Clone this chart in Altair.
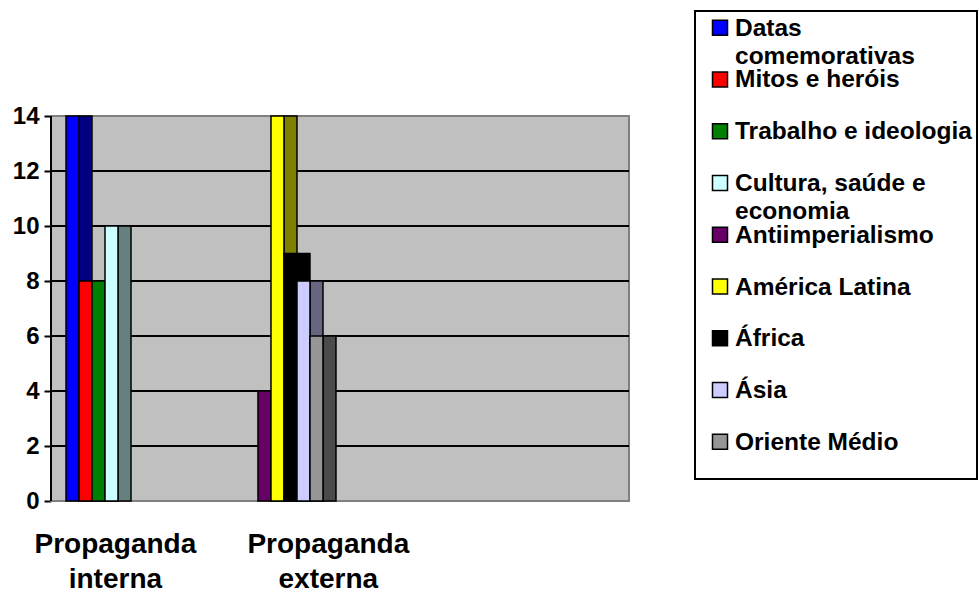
import altair as alt
import pandas as pd

# ---------------- data ----------------
categories = ["Propaganda interna", "Propaganda externa"]
series = ["Datas comemorativas", "Mitos e heróis", "Trabalho e ideologia",
          "Cultura, saúde e economia", "Antiimperialismo", "América Latina",
          "África", "Ásia", "Oriente Médio"]
legend_labels = ["Datas\ncomemorativas", "Mitos e heróis", "Trabalho e ideologia",
                 "Cultura, saúde e\neconomia", "Antiimperialismo", "América Latina",
                 "África", "Ásia", "Oriente Médio"]
valores_interna = [14, 8, 8, 10, 0, 0, 0, 0, 0]
valores_externa = [0, 0, 0, 0, 4, 14, 9, 8, 6]
y_ticks = [0, 2, 4, 6, 8, 10, 12, 14]

front_colors = ["#0000FF", "#FF0000", "#008000", "#CCFFFF", "#660066",
                "#FFFF00", "#000000", "#CCCCFF", "#969696"]
side_colors = ["#000080", "#800000", "#004000", "#668080", "#330033",
               "#808000", "#000000", "#666680", "#4B4B4B"]

FONT = "Liberation Sans"

rows = []
for cat, vals in zip(categories, [valores_interna, valores_externa]):
    for s, v in zip(series, vals):
        rows.append({"categoria": cat, "serie": s, "valor": v})
df = pd.DataFrame(rows)
df = df[df["valor"] > 0]

# the value axis occupies the lower 385 px of a 490 px tall panel
PANEL_H = 490
WALL_H = 385
y_top = max(y_ticks) * PANEL_H / WALL_H

x_bars = alt.X("categoria:N", sort=categories, axis=None,
               scale=alt.Scale(domain=categories, range=[15, 272],
                               paddingInner=0.164, paddingOuter=0))
y_axis = alt.Axis(values=y_ticks, title=None, labelFontSize=24, labelFontWeight="bold",
                  labelFont=FONT, labelColor="black", labelPadding=5,
                  tickSize=7, tickWidth=2, tickColor="black",
                  domain=False, grid=False)
y_scale = alt.Scale(domain=[0, y_top], nice=False, zero=True)
y_enc = alt.Y("valor:Q", scale=y_scale, axis=y_axis)

# back wall (grey) spanning the value range
wall_df = pd.DataFrame({"base": [min(y_ticks)], "topo": [max(y_ticks)]})
wall = alt.Chart(wall_df).mark_rect(fill="#C0C0C0", stroke="#808080", strokeWidth=2).encode(
    y=alt.Y("topo:Q", scale=y_scale, axis=y_axis), y2="base:Q",
    x=alt.value(0), x2=alt.value("width"),
)
axis_line = alt.Chart(wall_df).mark_rule(color="black", strokeWidth=2).encode(
    y=alt.Y("topo:Q", scale=y_scale, axis=y_axis), y2="base:Q", x=alt.value(0),
)

# horizontal grid lines on the back wall
grid_df = pd.DataFrame({"valor": [t for t in y_ticks if min(y_ticks) < t < max(y_ticks)]})
grid = alt.Chart(grid_df).mark_rule(color="black", strokeWidth=2).encode(
    y=y_enc, x=alt.value(0), x2=alt.value("width"),
)

# depth (side) faces, one slot to the right, darker shade
side = alt.Chart(df).mark_bar(stroke="black", strokeWidth=1.5).encode(
    x=x_bars,
    xOffset=alt.XOffset("serie:N", sort=series,
                        scale=alt.Scale(domain=series, range=[13, 130],
                                        paddingInner=0, paddingOuter=0)),
    y=y_enc,
    color=alt.Color("serie:N", scale=alt.Scale(domain=series, range=side_colors), legend=None),
)
# front faces
front = alt.Chart(df).mark_bar(stroke="black", strokeWidth=1.5).encode(
    x=x_bars,
    xOffset=alt.XOffset("serie:N", sort=series,
                        scale=alt.Scale(domain=series, range=[0, 117],
                                        paddingInner=0, paddingOuter=0)),
    y=y_enc,
    color=alt.Color("serie:N", scale=alt.Scale(domain=series, range=front_colors), legend=None),
)

cat_df = pd.DataFrame({"categoria": categories})
cat_labels = alt.Chart(cat_df).mark_point(opacity=0).encode(
    x=alt.X("categoria:N", sort=categories,
            scale=alt.Scale(type="point", domain=categories, padding=0.857, align=0.175),
            axis=alt.Axis(orient="bottom", title=None, labelAngle=0,
                          labelExpr="split(datum.label, ' ')",
                          labelFontSize=28, labelFontWeight="bold", labelFont=FONT,
                          labelColor="black", labelLineHeight=35, labelPadding=29,
                          labelLimit=0, labelOverlap=False, domain=False, ticks=False)),
    y=alt.value(0),
)

main = alt.layer(wall, grid, axis_line, side, front, cat_labels).resolve_scale(
    x="independent", xOffset="independent", color="independent"
).properties(
    width=578, height=PANEL_H,
    view=alt.ViewBackground(fill=None, stroke=None),
)

# ---------------- legend panel ----------------
leg_df = pd.DataFrame({"serie": series, "rotulo": legend_labels})
y_leg = alt.Y("serie:N", sort=series, axis=None,
              scale=alt.Scale(type="point", domain=series, padding=0.52, align=0.31))
sym = alt.Chart(leg_df).mark_square(size=225, stroke="black", strokeWidth=1.5, opacity=1).encode(
    x=alt.value(25), y=y_leg,
    color=alt.Color("serie:N", scale=alt.Scale(domain=series, range=front_colors), legend=None),
)
txt = alt.Chart(leg_df).mark_text(align="left", baseline="top", dy=-11, fontSize=24.5,
                                  fontWeight="bold", font=FONT, lineBreak="\n",
                                  lineHeight=28, color="black").encode(
    x=alt.value(40), y=y_leg, text="rotulo:N",
)
legend = alt.layer(sym, txt).properties(
    width=282, height=468,
    view=alt.ViewBackground(fill="white", stroke="black", strokeWidth=2),
)

chart = alt.hconcat(main, legend, spacing=64).resolve_scale(
    color="independent", y="independent", x="independent"
).properties(
    padding={"left": 12, "top": 8, "right": 0, "bottom": 0},
    background="white",
).configure(font=FONT)

chart.save("out.html", embed_options={"renderer": "svg", "actions": False})
